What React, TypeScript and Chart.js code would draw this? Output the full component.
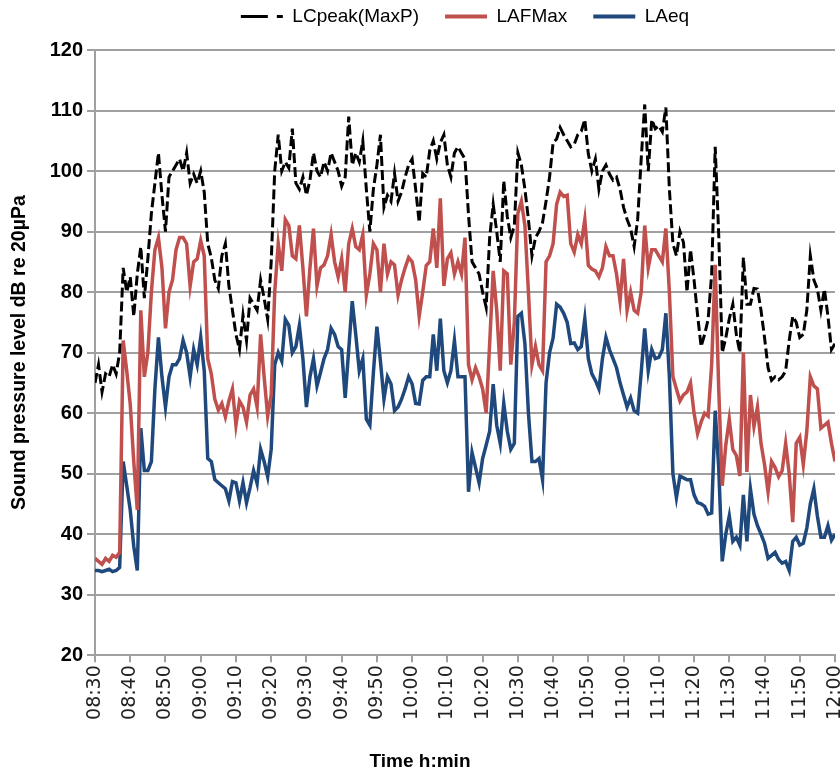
import { useEffect, useRef } from 'react';
import Chart from 'chart.js/auto';

// x categories: minutes after 08:30 (one reading per minute)
const minutes: number[] = Array.from({ length: 211 }, (_, i) => i);

const tickLabels = [
  '08:30', '08:40', '08:50', '09:00', '09:10', '09:20', '09:30', '09:40', '09:50', '10:00', '10:10',
  '10:20', '10:30', '10:40', '10:50', '11:00', '11:10', '11:20', '11:30', '11:40', '11:50', '12:00',
];

const lcPeak = [
  65, 68, 63.5, 66.5, 66, 68, 66.5, 70, 84, 80,
  82.5, 76, 83, 87.5, 79, 85.5, 93, 98, 103, 96,
  90, 99, 100, 101, 102, 100, 103, 98, 99.5, 98,
  100, 96.5, 88, 85.7, 82, 80.6, 86, 88, 81, 77,
  73, 70.5, 76.2, 72, 79, 78, 77, 82, 79, 75.5,
  85, 100, 106, 100, 101.5, 100.5, 107, 98, 97, 99,
  96, 98.5, 103, 100, 99, 101.5, 100, 103, 101.5, 100,
  97.5, 99, 109, 101, 103, 101.5, 105, 97, 90, 97,
  101, 106, 94, 96, 95, 99.6, 95, 96.5, 99, 101,
  102, 97, 91.5, 99.6, 99, 103.4, 105, 102, 104.7, 106,
  101, 99, 103, 104, 103, 102, 92.7, 85, 84, 83,
  80, 77.5, 89, 94.5, 90, 85, 98.4, 92.5, 89, 91,
  103, 101, 97, 92, 86, 89, 90, 91.5, 95, 99,
  104.7, 105.3, 107.2, 106, 105, 104, 104.4, 106, 106.6, 108.5,
  102.8, 100, 102, 97, 100, 101, 99.5, 98.5, 99, 97,
  94, 92, 90.5, 87.5, 92, 102, 111, 100, 108.5, 107,
  107.5, 106.5, 110.5, 97, 88, 86, 90, 88.2, 80, 87,
  82, 76.2, 71, 73, 75.5, 83, 104, 89.5, 70, 72.4,
  75.6, 78, 73, 70, 85.7, 78, 78, 80.6, 80.5, 77,
  72.5, 67.5, 65.4, 66, 65.5, 66, 67, 72, 76, 75,
  72.5, 73, 77, 86, 82, 80.5, 77, 80.5, 76, 70.5, 71.5,
];

const lafMax = [
  36, 35.5, 35, 36, 35.5, 36.5, 36.2, 37, 72, 67,
  61.5, 52, 44, 77, 66, 70, 80, 87, 89, 84,
  74, 80, 82, 87, 89, 89, 88, 81, 85, 85.5,
  88.5, 86, 69, 66.5, 62.3, 60.5, 61.6, 59.4, 62, 64,
  58, 62, 61, 58.5, 63, 64, 61, 73, 66, 59.5,
  63, 80, 88, 83.5, 92, 91, 86, 85.5, 91, 84,
  76, 84, 90.5, 81, 84, 84.5, 86, 89.5, 85, 82.5,
  85.5, 80, 88, 90.5, 87.5, 87, 89.5, 79.5, 83, 88,
  87, 80, 88, 83, 85, 84.5, 79.5, 82, 84, 85.7,
  85, 82, 76, 80, 84.4, 85, 90.5, 84, 95.5, 81,
  85.5, 86.5, 83, 85, 83, 89, 68, 65.5, 67.5, 66,
  64, 60, 71.5, 83.5, 77, 67, 83.5, 83, 68, 75,
  93, 95, 91, 80, 68, 71, 68, 67, 85, 86,
  88, 94.5, 96.5, 95.8, 96, 88, 86.6, 89.5, 88, 92,
  84.4, 83.8, 83.5, 82.5, 84, 87.5, 86, 86, 83, 78.5,
  85.5, 77, 80, 77, 76.5, 80, 91, 84, 87, 87,
  86, 85, 90.5, 80, 66, 64, 62, 63, 63.5, 65,
  60, 56.6, 58.5, 60, 59.5, 68, 84.5, 64, 48, 54.7,
  59, 54, 53, 49.6, 70, 50.3, 63, 57.8, 61, 55,
  51.5, 47, 52, 51, 49.5, 50.5, 55, 50, 42, 55,
  56, 51.5, 57, 66, 64.5, 64, 57.5, 58, 58.5, 55, 52,
];

const laeq = [
  34, 34, 33.8, 34, 34.2, 33.8, 34, 34.5, 52, 48,
  44, 38, 34, 57.5, 50.5, 50.5, 52, 64, 72.5, 66,
  61, 66, 68, 68, 69, 72, 70, 66, 70.5, 68,
  72.5, 67, 52.5, 52, 49, 48.5, 48, 47.5, 45.5, 48.7,
  48.5, 45.5, 48.5, 45.2, 47.7, 50.5, 48.4, 54, 52, 49.5,
  54, 68, 70, 68.6, 75.5, 74.5, 70, 71, 74.5, 69,
  61, 66, 69, 64.5, 66.7, 69, 70.5, 74, 73, 71,
  70.5, 62.5, 70.5, 78.5, 73, 67, 69, 59, 58, 66.7,
  74.3, 68.6, 62.3, 66, 64.8, 60.4, 61, 62.3, 64, 66,
  64.8, 61.6, 61.5, 65.4, 66, 66, 73, 67, 75.6, 67,
  65, 67, 72, 66, 66, 66, 47, 53.5, 51, 48.5,
  52.5, 54.7, 57, 64.8, 58, 55, 61.6, 57, 54, 55,
  76, 76.5, 71.5, 60, 52, 52, 52.5, 49, 65, 70,
  72.4, 78, 77.5, 76.5, 75, 71.5, 71.6, 70.5, 71, 75.6,
  69, 66.5, 65.4, 64, 69, 72.5, 70.5, 69, 67.5, 65,
  63, 61, 62.5, 60.4, 60, 66.7, 74, 67, 70.5, 69,
  69.2, 70.5, 76.5, 66, 50, 46, 49.6, 49.3, 49, 49,
  46.5, 45.2, 45, 44.6, 43.3, 43.5, 60.4, 51, 35.5, 40,
  43, 38.8, 39.5, 38.2, 46.5, 38.8, 47.5, 43.3, 41.4, 40,
  38.5, 36, 36.5, 37, 35.8, 35.2, 35.5, 34, 38.8, 39.5,
  38.2, 38.5, 41, 45, 47.5, 43, 39.5, 39.5, 41.4, 39, 40,
];

const legendSpacer = {
  id: 'legendSpacer',
  beforeInit(chart: any) {
    const legend = chart.legend;
    if (!legend) return;
    const origFit = legend.fit;
    legend.fit = function () {
      origFit.bind(legend)();
      this.height += 14;
    };
  },
};

export default function App() {
  const ref = useRef<HTMLCanvasElement | null>(null);

  useEffect(() => {
    if (!ref.current) return;
    const gridColor = '#a0a0a0';
    const chart = new Chart(ref.current, {
      type: 'line',
      data: {
        labels: minutes,
        datasets: [
          {
            label: 'LCpeak(MaxP)',
            data: lcPeak,
            borderColor: '#000000',
            backgroundColor: '#000000',
            borderWidth: 3,
            borderDash: [10, 4],
            pointRadius: 0,
            tension: 0,
          },
          {
            label: 'LAFMax',
            data: lafMax,
            borderColor: '#C0504D',
            backgroundColor: '#C0504D',
            borderWidth: 3.5,
            pointRadius: 0,
            tension: 0,
          },
          {
            label: 'LAeq',
            data: laeq,
            borderColor: '#1F497D',
            backgroundColor: '#1F497D',
            borderWidth: 3.5,
            pointRadius: 0,
            tension: 0,
          },
        ],
      },
      options: {
        responsive: false,
        animation: false,
        events: [],
        layout: { padding: 0 },
        plugins: {
          legend: {
            position: 'top',
            fullSize: false,
            labels: {
              usePointStyle: true,
              pointStyle: 'line',
              pointStyleWidth: 42,
              padding: 7,
              color: '#000',
              font: { family: 'Liberation Sans', size: 19 },
              generateLabels: (c: any) => {
                const items = (Chart as any).defaults.plugins.legend.labels.generateLabels(c);
                items.forEach((it: any, i: number) => {
                  it.lineWidth = i === 0 ? 3 : 4;
                  if (i === 0) it.lineDash = [27, 9];
                  if (i < items.length - 1) it.text = it.text + '\u2003';
                });
                return items;
              },
            },
          },
          title: {
            display: true,
            position: 'bottom',
            text: 'Time h:min',
            color: '#000',
            font: { family: 'Liberation Sans', size: 19, weight: 'bold' },
            padding: 0,
          },
          tooltip: { enabled: false },
        },
        scales: {
          x: {
            type: 'linear',
            min: 0,
            max: 210,
            ticks: {
              stepSize: 10,
              autoSkip: false,
              maxRotation: 90,
              minRotation: 90,
              padding: 3,
              color: '#222',
              font: { family: 'DejaVu Sans', size: 19 },
              callback: (v: any) => tickLabels[Math.round(Number(v) / 10)] ?? '',
            },
            grid: { drawOnChartArea: false, tickLength: 7, color: gridColor, lineWidth: 2 },
            border: { color: gridColor, width: 2 },
            afterFit: (s: any) => {
              s.height = 95;
              s.paddingRight = 5;
            },
          },
          y: {
            min: 20,
            max: 120,
            ticks: {
              stepSize: 10,
              padding: 4,
              color: '#000',
              font: { family: 'Liberation Sans', size: 20, weight: 'bold' },
            },
            grid: { color: gridColor, lineWidth: 2, tickLength: 8 },
            border: { color: gridColor, width: 2 },
            title: {
              display: true,
              text: 'Sound pressure level dB re 20µPa',
              color: '#000',
              font: { family: 'Liberation Sans', size: 19.5, weight: 'bold' },
              padding: { top: 8, bottom: 0 },
            },
            afterFit: (s: any) => {
              s.width = 95;
            },
          },
        },
      },
      plugins: [legendSpacer],
    });
    return () => chart.destroy();
  }, []);

  return (
    <div style={{ position: 'absolute', left: 0, top: 0, width: 840, height: 773, background: '#fff' }}>
      <canvas ref={ref} width={840} height={773} style={{ display: 'block' }} />
    </div>
  );
}
